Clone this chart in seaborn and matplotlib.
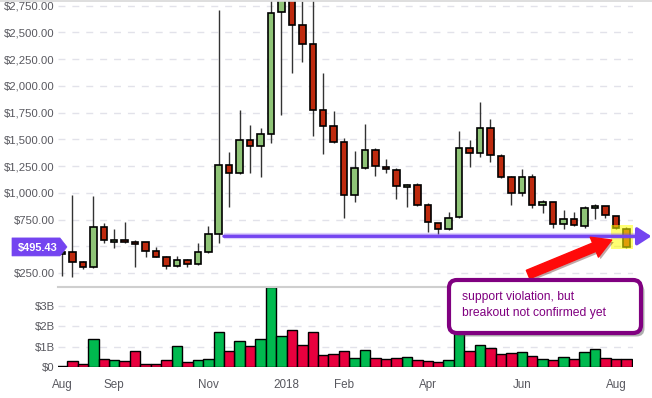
import numpy as np
import pandas as pd
import matplotlib
matplotlib.use("Agg")
import matplotlib.pyplot as plt
import seaborn as sns
from matplotlib.patches import Polygon, FancyBboxPatch, Rectangle, FancyArrowPatch
from matplotlib.transforms import IdentityTransform
import matplotlib.patheffects as pe

# ---- data (weekly candles, Aug 2017 - Aug 2018) ----
opens = [430, 448, 355, 305, 685, 540, 560, 540, 540, 457, 405, 320, 370, 335, 445,
         613, 1258, 1183, 1492, 1436, 1550, 2690, 2950, 2567, 2390, 1775, 1628, 1475,
         978, 1230, 1399, 1240, 1212, 1053, 1071, 884, 716, 660, 772, 1417, 1371, 1604,
         1343, 1146, 996, 1152, 884, 913, 707, 759, 691, 856, 875, 782, 660]
highs = [470, 980, 368, 975, 715, 665, 728, 560, 545, 498, 410, 410, 385, 530, 690,
         2710, 1385, 1775, 1635, 1605, 4000, 3300, 3200, 2790, 2850, 2124, 1766, 1515,
         1392, 1647, 1420, 1317, 1232, 1084, 1093, 903, 720, 819, 1580, 1495, 1850, 1691,
         1361, 1155, 1224, 1177, 934, 920, 840, 821, 875, 897, 880, 785, 685]
lows = [225, 217, 290, 300, 535, 490, 535, 312, 405, 400, 292, 305, 312, 330, 440,
        535, 870, 1180, 1190, 1150, 1464, 1730, 2118, 2220, 1535, 1360, 1465, 770,
        912, 1225, 1155, 1190, 940, 866, 880, 638, 619, 655, 765, 1240, 1340, 1286,
        1137, 885, 970, 862, 816, 676, 660, 695, 676, 754, 770, 660, 483]
closes = [450, 355, 305, 685, 560, 560, 540, 520, 460, 405, 320, 370, 335, 445, 613,
          1258, 1183, 1492, 1436, 1548, 2680, 2950, 2570, 2392, 1775, 1626, 1475, 978,
          1230, 1399, 1249, 1221, 1062, 1071, 884, 725, 660, 763, 1417, 1371, 1604, 1352,
          1146, 996, 1152, 884, 913, 707, 759, 697, 856, 875, 791, 670, 495.43]
volumes_b = [0.04, 0.30, 0.13, 1.36, 0.38, 0.33, 0.28, 0.77, 0.13, 0.13, 0.33, 1.02,
             0.23, 0.33, 0.38, 1.71, 0.77, 1.27, 1.02, 1.36, 3.96, 1.51, 1.81, 1.07,
             1.71, 0.58, 0.62, 0.79, 0.43, 0.82, 0.43, 0.38, 0.43, 0.48, 0.33, 0.30,
             0.23, 0.33, 2.50, 0.79, 1.07, 0.92, 0.62, 0.67, 0.72, 0.53, 0.38, 0.33,
             0.48, 0.38, 0.72, 0.87, 0.43, 0.38, 0.38]
tick_pos = [0, 5, 14, 21.5, 27, 35, 44, 53]
tick_labels = ["Aug", "Sep", "Nov", "2018", "Feb", "Apr", "Jun", "Aug"]
price_ticks = [250, 500, 750, 1000, 1250, 1500, 1750, 2000, 2250, 2500, 2750]
vol_ticks = [0, 1, 2, 3]
vol_tick_labels = ["$0", "$1B", "$2B", "$3B"]
support_level = 595
support_start = 15.5
support_end = 56.4
last_price = closes[-1]
note_text = "support violation, but\nbreakout not confirmed yet"

GREEN_C, RED_C = "#8fc477", "#be2a0e"
GREEN_V, RED_V = "#00ba4f", "#e8003e"
PURPLE = "#7444f0"

sns.set_theme(style="white")
plt.rcParams['font.family'] = ['Liberation Sans', 'DejaVu Sans']

W, H = 652, 398
fig = plt.figure(figsize=(W / 100, H / 100), dpi=100)
fig.patch.set_facecolor("white")


def fx(px):
    return px / W


def fy(py):
    return 1 - py / H


ax = fig.add_axes([fx(58), fy(287), fx(633) - fx(58), fy(1) - fy(287)])
axv = fig.add_axes([fx(58), fy(367), fx(633) - fx(58), fy(287) - fy(367)])

idx = np.arange(len(opens))
o = np.array(opens, float)
c = np.array(closes, float)
up = c >= o
xlim = (-0.38, 54.64)

# ---- candles ----
ax.vlines(idx, lows, highs, color="#333333", lw=1, zorder=1)
ax.bar(idx, np.abs(c - o), bottom=np.minimum(o, c), width=0.62,
       color=[GREEN_C if u else RED_C for u in up], edgecolor="black",
       linewidth=1.2, zorder=2)
ax.set_xlim(*xlim)
ax.set_ylim(121, 2794)
ax.set_yticks(price_ticks)
# the $500 label is hidden under the last-price tag in the reference
ax.set_yticklabels(["" if v == 500 else f"${v:,.2f}" for v in price_ticks])
ax.set_xticks([])
ax.yaxis.grid(True, color="#e2e2ea", linestyle=(0, (5, 5)), lw=1)
ax.set_axisbelow(True)
ax.tick_params(axis="y", length=0, pad=2.2, labelsize=8.2, labelcolor="#58585f")
for s in ax.spines.values():
    s.set_visible(False)

# highlight of the last candle
ax.add_patch(Rectangle((52.54, 476), 2.66, 224, facecolor="#ffff00", alpha=0.55,
                       edgecolor="none", zorder=3))

# support line with arrow
ax.plot([support_start, support_end - 0.6], [support_level, support_level],
        color=PURPLE, lw=4.5, alpha=0.25, zorder=4, clip_on=False,
        solid_capstyle="butt")
ax.annotate("", xy=(support_end, support_level), xytext=(support_start, support_level),
            annotation_clip=False, zorder=5,
            arrowprops=dict(arrowstyle="-|>,head_length=0.7,head_width=0.45",
                            color=PURPLE, lw=2.4, shrinkA=0, shrinkB=0))

# red arrow
arr = FancyArrowPatch((44.6, 238), (52.6, 560),
                      arrowstyle="simple,head_length=1.35,head_width=1.55,tail_width=0.65",
                      mutation_scale=10, color="#ff0a0a", zorder=6,
                      shrinkA=0, shrinkB=0)
arr.set_path_effects([pe.SimplePatchShadow(offset=(1.5, -1.5), alpha=0.35), pe.Normal()])
ax.add_patch(arr)

# ---- volume ----
df = pd.DataFrame({"week": idx, "volume": volumes_b,
                   "dir": np.where(up, "up", "down")})
sns.barplot(data=df, x="week", y="volume", hue="dir",
            palette={"up": GREEN_V, "down": RED_V}, dodge=False, width=1.0,
            saturation=1, edgecolor="black", linewidth=1, native_scale=True,
            legend=False, ax=axv)
axv.set_xlim(*xlim)
axv.set_ylim(0, 3.94)
axv.set_yticks(vol_ticks)
axv.set_yticklabels(vol_tick_labels)
axv.set_xticks(tick_pos)
axv.set_xticklabels(tick_labels)
axv.set_xlabel("")
axv.set_ylabel("")
axv.yaxis.grid(True, color="#e2e2ea", linestyle=(0, (5, 5)), lw=1)
axv.set_axisbelow(True)
axv.tick_params(axis="y", length=0, pad=2.2, labelsize=8.2, labelcolor="#58585f")
axv.tick_params(axis="x", length=4, width=1, color="#d0d0d0", pad=4.5,
                labelsize=8.4, labelcolor="#58585f")
for k, s in axv.spines.items():
    s.set_visible(k == "top")
axv.spines["top"].set_color("#cfcfcf")
axv.spines["top"].set_linewidth(1.5)

# top border
fig.add_artist(plt.Line2D([0, 1], [fy(0.5), fy(0.5)], transform=fig.transFigure,
                          color="#d8d8d8", lw=1.2))

# ---- last price tag ----
_, py = ax.transData.transform((0, last_price))
tag = Polygon([(12, py + 9), (60, py + 9), (67, py), (60, py - 9), (12, py - 9)],
              closed=True, transform=IdentityTransform(), facecolor=PURPLE,
              edgecolor=PURPLE, lw=0.5, joinstyle="round", zorder=20)
fig.add_artist(tag)
fig.text(37.5 / W, py / H, f"${last_price:,.2f}", color="white", fontsize=7.9,
         fontweight="bold", ha="center", va="center_baseline", zorder=21)

# ---- note box ----
box = FancyBboxPatch((449 / 100, (H - 333) / 100), 192 / 100, 53 / 100,
                     boxstyle="round,pad=0,rounding_size=0.08",
                     transform=fig.dpi_scale_trans, facecolor="white",
                     edgecolor="#800080", lw=3, zorder=20)
box.set_path_effects([pe.SimplePatchShadow(offset=(2.5, -2.5), alpha=0.45), pe.Normal()])
fig.add_artist(box)
fig.text(462.5 / W, fy(305), note_text, color="#800080", fontsize=8.7,
         ha="left", va="center", linespacing=1.45, zorder=21)

fig.savefig("out.png", dpi=100)
